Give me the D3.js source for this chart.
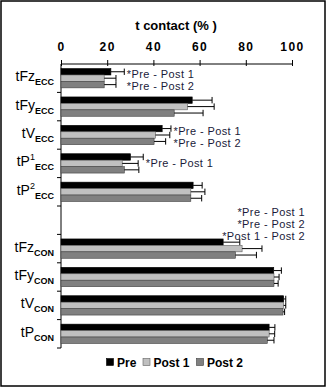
<!DOCTYPE html>
<html>
<head>
<meta charset="utf-8">
<script src="https://cdn.jsdelivr.net/npm/d3@7"></script>
<style>
  html, body { margin: 0; padding: 0; background: #fff; }
  svg text { font-family: "Liberation Sans", Arial, sans-serif; }
</style>
</head>
<body>
<svg id="chart" width="327" height="388"></svg>
<script>
// ---- data ----
const categories = ["tFzECC", "tFyECC", "tVECC", "tP1ECC", "tP2ECC", "gap", "tFzCON", "tFyCON", "tVCON", "tPCON"];
const labelMain = ["tFz", "tFy", "tV", "tP", "tP", "", "tFz", "tFy", "tV", "tP"];
const labelSup  = ["", "", "", "1", "2", "", "", "", "", ""];
const labelSub  = ["ECC", "ECC", "ECC", "ECC", "ECC", "", "CON", "CON", "CON", "CON"];
const seriesNames = ["Pre", "Post 1", "Post 2"];
const preValues   = [21.6, 56.8, 43.8, 30.1, 57.2, null, 70.2, 92.1, 96.4, 90.1];
const post1Values = [18.7, 54.8, 40.9, 26.5, 56.2, null, 78.4, 92.2, 96.4, 90.1];
const post2Values = [18.7, 49.0, 40.3, 27.4, 56.2, null, 75.5, 92.2, 96.1, 89.3];
const preErr   = [5.8, 8.6, 3.8, 5.5, 3.9, null, 7.2, 3.3, 0.9, 2.5];
const post1Err = [5.1, 11.5, 6.2, 6.9, 6.1, null, 8.6, 2.2, 0.9, 2.4];
const post2Err = [5.1, 12.5, 5.0, 6.3, 4.7, null, 9.1, 1.8, 0.7, 2.9];
const xTicks = [0, 20, 40, 60, 80, 100];
const annotations = {
  "tFzECC": ["*Pre - Post 1", "*Pre - Post 2"],
  "tVECC":  ["*Pre - Post 1", "*Pre - Post 2"],
  "tP1ECC": ["*Pre - Post 1"],
  "tFzCON": ["*Pre - Post 1", "*Pre - Post 2", "*Post 1 - Post 2"]
};
const colors = ["#000000", "#c0c0c0", "#808080"];
const strokes = ["#000000", "#606060", "#404040"];

// ---- layout ----
const svg = d3.select("#chart");
svg.append("rect").attr("x", 1).attr("y", 1).attr("width", 324).attr("height", 385)
  .attr("fill", "#fff").attr("stroke", "#000").attr("stroke-width", 1.5);

const x = d3.scaleLinear().domain([0, 100]).range([61, 292]);
const y = d3.scaleBand().domain(categories).range([64, 348]).paddingInner(0.32).paddingOuter(0.16);
const ys = d3.scaleBand().domain(seriesNames).range([0, y.bandwidth()]);

const seriesVals = [preValues, post1Values, post2Values];
const seriesErrs = [preErr, post1Err, post2Err];

// title
svg.append("text").attr("x", 176).attr("y", 30).attr("text-anchor", "middle")
  .attr("font-size", 13).attr("font-weight", "bold").text("t contact (% )");

// top axis
const xAxis = d3.axisTop(x).tickValues(xTicks).tickSize(4).tickPadding(9);
const gx = svg.append("g").attr("transform", "translate(0,64)").call(xAxis);
gx.select(".domain").attr("stroke", "#000").attr("d", "M61,0H292");
gx.selectAll(".tick line").attr("stroke", "#000").attr("y2", -4).attr("y1", 2);
gx.selectAll(".tick text").attr("font-size", 12).attr("font-weight", "bold")
  .attr("font-family", "Liberation Sans, Arial, sans-serif").attr("letter-spacing", "1.5px").attr("fill", "#000");

// left axis line + boundary ticks
svg.append("line").attr("x1", 61).attr("x2", 61).attr("y1", 64).attr("y2", 348).attr("stroke", "#000");
const step = y.step();
categories.forEach((c, i) => {
  const yy = y(c) - y.paddingOuter() * step + step; // end of band
  svg.append("line").attr("x1", 57).attr("x2", 61).attr("y1", yy).attr("y2", yy).attr("stroke", "#000");
});

// bars
seriesNames.forEach((s, si) => {
  const g = svg.append("g");
  categories.forEach((c, ci) => {
    const v = seriesVals[si][ci];
    if (v == null) return;
    const y0 = y(c) + ys(s);
    const h = ys.bandwidth();
    g.append("rect").attr("x", x(0)).attr("y", y0).attr("width", x(v) - x(0)).attr("height", h)
      .attr("fill", colors[si]).attr("stroke", strokes[si]).attr("stroke-width", 0.6);
    const e = seriesErrs[si][ci];
    const xe = x(v + e);
    const yc = y0 + h / 2;
    g.append("line").attr("x1", x(v)).attr("x2", xe).attr("y1", yc).attr("y2", yc).attr("stroke", "#000").attr("stroke-width", 1);
    g.append("line").attr("x1", xe).attr("x2", xe).attr("y1", yc - 3.2).attr("y2", yc + 3.2).attr("stroke", "#000").attr("stroke-width", 1);
  });
});

// category labels
categories.forEach((c, i) => {
  if (!labelMain[i]) return;
  const cy = y(c) + y.bandwidth() / 2;
  const t = svg.append("text").attr("x", 54).attr("y", cy + 3).attr("text-anchor", "end")
    .attr("font-size", 14).attr("fill", "#000");
  t.append("tspan").text(labelMain[i]);
  if (labelSup[i]) t.append("tspan").attr("font-size", 9).attr("dy", -6).text(labelSup[i]);
  t.append("tspan").attr("font-size", 9).attr("font-weight", "bold")
    .attr("dy", labelSup[i] ? 10 : 4).text(labelSub[i]);
});

// annotations
Object.keys(annotations).forEach(c => {
  const ci = categories.indexOf(c);
  const lines = annotations[c];
  const cy = y(c) + y.bandwidth() / 2;
  const maxEnd = d3.max([0, 1, 2], si => x(seriesVals[si][ci] + seriesErrs[si][ci]));
  lines.forEach((ln, li) => {
    let tx, ty, anchor;
    if (c === "tFzCON") {
      tx = 305; anchor = "end"; ty = cy - 33 + li * 12;
    } else if (lines.length === 2) {
      tx = maxEnd + 2.5; anchor = "start"; ty = cy - 0.5 + li * 12;
    } else {
      tx = maxEnd + 2.5; anchor = "start"; ty = cy + 4;
    }
    svg.append("text").attr("x", tx).attr("y", ty).attr("text-anchor", anchor)
      .attr("font-size", 11).attr("letter-spacing", "0.4px").attr("fill", "#1a1a3a").text(ln);
  });
});

// legend
const legendX = [106.5, 143, 196.5];
seriesNames.forEach((s, si) => {
  svg.append("rect").attr("x", legendX[si]).attr("y", 358.5).attr("width", 7).attr("height", 7)
    .attr("fill", colors[si]).attr("stroke", strokes[si]).attr("stroke-width", 0.6);
  svg.append("text").attr("x", legendX[si] + 10.5).attr("y", 366.5).attr("font-size", 12)
    .attr("font-weight", "bold").attr("fill", "#000").text(s);
});
</script>
</body>
</html>
